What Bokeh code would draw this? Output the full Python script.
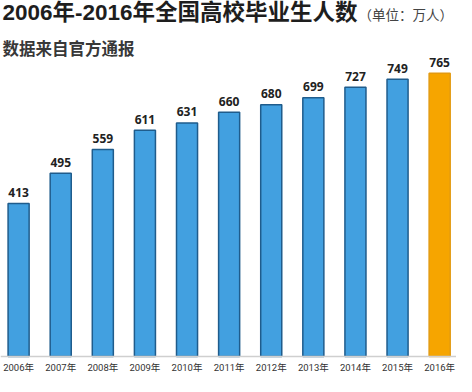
from bokeh.plotting import figure
from bokeh.models import ColumnDataSource, Label, Span, Range1d
from bokeh.core.properties import value
from bokeh.embed import file_html
from bokeh.resources import INLINE

years = ["2006年", "2007年", "2008年", "2009年", "2010年", "2011年",
         "2012年", "2013年", "2014年", "2015年", "2016年"]
graduates = [413, 495, 559, 611, 631, 660, 680, 699, 727, 749, 765]
highlight = "2016年"

title_text = "2006年-2016年全国高校毕业生人数"
unit_text = "（单位：万人）"
subtitle_text = "数据来自官方通报"

idx = list(range(len(years)))
fills = ["#f6a500" if y == highlight else "#42a0e0" for y in years]
lines = ["#e39a10" if y == highlight else "#1f5c8c" for y in years]

src = ColumnDataSource(dict(
    x=idx, top=graduates, label=[str(v) for v in graduates],
    year=years, fill=fills, line=lines, zero=[0] * len(years),
))

p = figure(width=456, height=376, output_backend="svg", toolbar_location=None,
           x_axis_location=None, y_axis_location=None,
           min_border=0, min_border_left=0, min_border_right=0,
           min_border_top=0, min_border_bottom=0)
p.x_range = Range1d(-0.43, 10.40)
p.y_range = Range1d(-54, 961.6)
p.grid.visible = False
p.outline_line_color = None
p.background_fill_color = "white"
p.border_fill_color = "white"

p.add_layout(Span(location=0, dimension="width", line_color="#cfcfcf", line_width=1.5))

p.vbar(x="x", top="top", bottom=0, width=0.5, source=src,
       fill_color="fill", line_color="line", line_width=1.5)

p.text(x="x", y="top", text="label", source=src, text_align="center",
       text_baseline="alphabetic", y_offset=-11,
       text_font=value("Open Sans"), text_font_style="bold",
       text_font_size="12px", text_color="#222222")

p.text(x="x", y="zero", text="year", source=src, text_align="center",
       text_baseline="middle", y_offset=11,
       text_font=value("Roboto, Noto Sans CJK SC"), text_font_size="9.5px",
       text_color="#333333")

p.add_layout(Label(x=2, y=364, x_units="screen", y_units="screen",
                   text=title_text, text_baseline="middle",
                   text_font="Liberation Sans, Noto Sans CJK SC",
                   text_font_style="bold", text_font_size="22.5px",
                   text_color="#1e1e1e"))
p.add_layout(Label(x=358, y=363, x_units="screen", y_units="screen",
                   text=unit_text, text_baseline="middle",
                   text_font="Noto Sans CJK SC", text_font_size="13.5px",
                   text_color="#444444"))
p.add_layout(Label(x=2, y=329, x_units="screen", y_units="screen",
                   text=subtitle_text, text_baseline="middle",
                   text_font="Noto Sans CJK SC", text_font_style="bold",
                   text_font_size="16.5px", text_color="#383838"))

open("out.html", "w").write(file_html(p, INLINE))
